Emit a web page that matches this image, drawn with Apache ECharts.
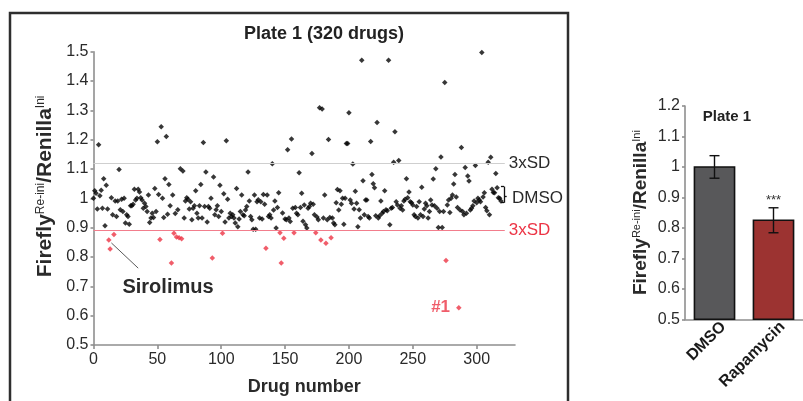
<!DOCTYPE html>
<html><head><meta charset="utf-8">
<script src="https://cdn.jsdelivr.net/npm/echarts@6/dist/echarts.min.js"></script>
<style>html,body{margin:0;padding:0;background:#fff}#c{width:803px;height:401px}</style>
</head><body><div id="c"></div>
<script>
// ---- data ----
const drugValues = [
  1.000,1.026,1.017,0.964,1.183,1.009,1.028,0.966,1.067,0.907,
  1.045,0.964,0.858,0.827,1.002,0.944,0.877,0.991,0.938,0.991,
  1.098,0.961,0.997,0.955,1.000,0.916,0.944,0.938,0.912,0.975,
  0.975,0.980,1.031,0.994,1.000,1.031,1.022,1.002,0.994,0.966,
  0.983,0.972,0.955,1.011,0.918,0.933,0.949,0.935,1.034,0.955,
  1.193,1.013,0.860,1.244,1.000,0.935,1.067,1.211,0.946,1.047,
  0.975,0.780,1.011,0.881,0.948,0.868,0.961,0.866,1.101,0.862,
  1.093,0.933,0.991,1.002,0.997,0.964,0.988,0.927,0.966,0.975,
  1.026,0.949,0.933,0.975,1.047,0.933,1.190,0.972,1.090,0.919,
  0.972,0.966,1.000,0.797,1.073,0.944,0.961,0.975,0.938,1.045,
  0.955,0.881,1.016,0.919,1.196,0.997,0.933,0.949,0.938,0.944,
  0.933,0.916,1.034,0.903,0.930,0.955,1.011,0.944,0.941,0.960,
  0.972,1.090,0.991,0.938,0.927,0.895,1.011,0.895,0.988,0.995,
  0.933,0.988,0.930,1.013,0.980,0.830,1.011,0.938,0.944,0.933,
  1.118,0.960,0.991,0.899,0.969,1.019,0.883,0.780,0.950,0.864,
  0.930,0.927,1.166,0.933,0.921,1.202,0.966,0.883,0.969,0.949,
  0.944,1.087,0.969,1.017,0.922,0.977,0.910,0.899,0.966,0.972,
  0.983,1.153,0.980,0.944,0.883,0.936,0.927,1.309,0.858,1.305,
  0.933,1.011,0.847,0.927,1.201,0.935,0.866,0.933,0.916,0.910,
  0.985,1.030,0.960,1.026,0.980,1.000,0.912,1.000,1.187,1.187,
  1.292,0.994,0.983,1.117,0.964,1.024,0.983,0.903,0.961,0.933,
  1.471,1.060,0.944,0.994,0.994,0.938,0.933,1.194,1.081,1.050,
  1.036,0.941,1.259,0.933,0.941,0.991,0.949,0.955,1.026,0.961,
  0.958,1.471,0.910,0.966,0.969,1.123,1.227,0.988,0.977,1.129,
  0.966,0.975,0.960,0.991,0.997,1.067,1.002,1.022,0.988,0.985,
  0.977,0.944,0.938,0.972,0.933,0.988,0.944,1.038,0.938,0.964,
  0.983,0.975,0.933,0.955,0.994,0.977,1.066,0.975,1.101,0.966,
  0.901,0.955,1.141,0.901,0.955,1.395,0.788,0.977,0.994,0.952,
  1.000,1.011,1.049,1.081,1.005,0.969,0.627,0.960,1.173,0.955,
  0.944,1.105,0.949,1.076,1.059,0.960,0.966,0.975,0.991,1.112,
  0.985,1.000,0.994,0.988,1.497,1.005,1.019,0.969,0.958,1.123,
  0.944,1.140,1.031,1.020,1.019,1.085,1.036,1.002,1.000,0.991
];
const upperSD = 1.121;
const lowerSD = 0.890;
const pointLabels = {286: '#1'};
const xTickValues = [0, 50, 100, 150, 200, 250, 300];
const barCategories = ['DMSO', 'Rapamycin'];
const barValues = [1.0, 0.825];
const barErrors = [0.037, 0.041];
const barSig = ['', '***'];

// ---- chart ----
const FONT = "'Liberation Sans', Arial, Helvetica, sans-serif";
const TXT = '#2a2a2a';
const RED = '#ec3445';
const blackPts = [], redPts = [];
drugValues.forEach((v, i) => {
  if (v >= lowerSD) blackPts.push([i, v]);
  else {
    const item = {value: [i, v]};
    if (pointLabels[i]) item.label = {show: true, formatter: pointLabels[i], position: 'left', distance: 6,
      color: RED, fontSize: 17, fontWeight: 'bold', fontFamily: FONT};
    redPts.push(item);
  }
});

const chart = echarts.init(document.getElementById('c'), null, {renderer: 'canvas'});
const axisLineStyle = {color: '#8f8f8f', width: 1.6};
const blackLine = {color: '#111', width: 1.3, type: 'solid'};
const yName = (m, s) => ({
  rich: {
    m: {fontSize: m, fontWeight: 'bold', color: TXT, fontFamily: FONT},
    s: {fontSize: s, fontWeight: 'normal', color: TXT, fontFamily: FONT, verticalAlign: 'top'}
  }
});

chart.setOption({
  animation: false,
  textStyle: {fontFamily: FONT},
  grid: [
    {left: 93.5, top: 51.7, width: 421.5, height: 296.6},
    {left: 685, top: 106, width: 123, height: 213.3}
  ],
  xAxis: [
    {gridIndex: 0, type: 'value', min: 0, max: 330, interval: 50,
     axisLine: {lineStyle: axisLineStyle}, splitLine: {show: false},
     axisTick: {length: 4, lineStyle: axisLineStyle, customValues: xTickValues},
     axisLabel: {customValues: xTickValues, fontSize: 16, color: TXT, margin: 7},
     name: 'Drug number', nameLocation: 'middle', nameGap: 33,
     nameTextStyle: {fontSize: 18, fontWeight: 'bold', color: TXT}},
    {gridIndex: 1, type: 'category', data: barCategories,
     axisLine: {lineStyle: axisLineStyle}, axisTick: {length: 4, lineStyle: axisLineStyle},
     axisLabel: {show: false}}
  ],
  yAxis: [
    {gridIndex: 0, type: 'value', min: 0.5, max: 1.5, interval: 0.1,
     axisLine: {show: true, lineStyle: axisLineStyle}, splitLine: {show: false},
     axisTick: {show: true, length: 3, lineStyle: axisLineStyle},
     axisLabel: {fontSize: 16, color: TXT, margin: 5, padding: [0, 0, 8, 0]},
     name: '{m|Firefly}{s|Re-ini}{m|/Renilla}{s|Ini}', nameLocation: 'middle', nameRotate: 90, nameGap: 37,
     nameTextStyle: Object.assign(yName(21, 12), {padding: [0, 0, 0, 24]})},
    {gridIndex: 1, type: 'value', min: 0.5, max: 1.2, interval: 0.1,
     axisLine: {show: true, lineStyle: axisLineStyle}, splitLine: {show: false},
     axisTick: {show: true, length: 3, lineStyle: axisLineStyle},
     axisLabel: {fontSize: 16, color: TXT, margin: 5},
     name: '{m|Firefly}{s|Re-ini}{m|/Renilla}{s|Ini}', nameLocation: 'middle', nameRotate: 90, nameGap: 35,
     nameTextStyle: yName(19, 11)}
  ],
  series: [
    {type: 'scatter', xAxisIndex: 0, yAxisIndex: 0, data: blackPts, symbol: 'diamond', symbolSize: 5.5,
     itemStyle: {color: '#050505'}, silent: true,
     markLine: {silent: true, symbol: ['none', 'none'],
       data: [
         [{coord: [0, upperSD], lineStyle: {color: '#cfcfcf', width: 1, type: 'solid'},
           label: {show: true, position: 'end', formatter: '3xSD', fontSize: 17, color: TXT, distance: 4}},
          {coord: [322, upperSD]}],
         [{coord: [0, lowerSD], lineStyle: {color: '#f27d8c', width: 1, type: 'solid'},
           label: {show: true, position: 'end', formatter: '3xSD', fontSize: 17, color: RED, distance: 4}},
          {coord: [322, lowerSD]}],
         [{coord: [321.5, 0.985], lineStyle: blackLine, label: {show: false}}, {coord: [321.5, 1.040]}],
         [{coord: [319, 1.040], lineStyle: blackLine, label: {show: false}}, {coord: [321.5, 1.040]}],
         [{coord: [319, 0.985], lineStyle: blackLine, label: {show: false}}, {coord: [321.5, 0.985]}],
         [{coord: [321.5, 1.008], lineStyle: blackLine, label: {show: false}}, {coord: [323.5, 1.008]}]
       ]}},
    {type: 'scatter', xAxisIndex: 0, yAxisIndex: 0, data: redPts, symbol: 'diamond', symbolSize: 5.5,
     itemStyle: {color: RED}, silent: true,
     markLine: {silent: true, symbol: ['none', 'none'],
       data: [[{coord: [14, 0.848], lineStyle: {color: '#5a5a5a', width: 1, type: 'solid'}, label: {show: false}}, {coord: [35, 0.762]}]]}},
    {type: 'custom', xAxisIndex: 1, yAxisIndex: 1,
     data: barValues.map((v, i) => [i, v, v - barErrors[i], v + barErrors[i]]),
     renderItem: (params, api) => {
       const i = api.value(0), v = api.value(1), lo = api.value(2), hi = api.value(3);
       const base = api.coord([i, 0.5]);
       const top = api.coord([i, v]);
       const pLo = api.coord([i, lo]);
       const pHi = api.coord([i, hi]);
       const bw = api.size([1, 0])[0] * 0.68;
       const fill = i === 0 ? '#58585a' : '#9c3331';
       const children = [
         {type: 'rect', shape: {x: top[0] - bw / 2, y: top[1], width: bw, height: base[1] - top[1]},
          style: {fill: fill, stroke: '#111', lineWidth: 1.6}},
         {type: 'line', shape: {x1: pLo[0], y1: pLo[1], x2: pHi[0], y2: pHi[1]}, style: {stroke: '#111', lineWidth: 1.4}},
         {type: 'line', shape: {x1: pLo[0] - 5, y1: pLo[1], x2: pLo[0] + 5, y2: pLo[1]}, style: {stroke: '#111', lineWidth: 1.4}},
         {type: 'line', shape: {x1: pHi[0] - 5, y1: pHi[1], x2: pHi[0] + 5, y2: pHi[1]}, style: {stroke: '#111', lineWidth: 1.4}},
         {type: 'text', x: base[0] + 9, y: base[1] + 5, rotation: Math.PI / 4,
          style: {text: barCategories[params.dataIndex], align: 'right', verticalAlign: 'middle',
            fontSize: 16, fontWeight: 'bold', fontFamily: FONT, fill: '#1a1a1a'}}
       ];
       const sig = barSig[params.dataIndex];
       if (sig) children.push({type: 'text', style: {text: sig, x: pHi[0], y: pHi[1] - 1, align: 'center',
         verticalAlign: 'bottom', fontSize: 13, fontFamily: FONT, fill: '#333'}});
       return {type: 'group', children: children};
     }}
  ],
  graphic: [
    {type: 'rect', shape: {x: 10, y: 13, width: 558, height: 420}, style: {fill: 'none', stroke: '#2e2e2e', lineWidth: 2.5}, silent: true},
    {type: 'text', x: 324, y: 34, style: {text: 'Plate 1 (320 drugs)', textAlign: 'center', textVerticalAlign: 'middle',
      fontSize: 18, fontWeight: 'bold', fontFamily: FONT, fill: '#222'}},
    {type: 'text', x: 168, y: 287, style: {text: 'Sirolimus', textAlign: 'center', textVerticalAlign: 'middle',
      fontSize: 20, fontWeight: 'bold', fontFamily: FONT, fill: '#2a2a2a'}},
    {type: 'text', x: 512, y: 198, style: {text: 'DMSO', textAlign: 'left', textVerticalAlign: 'middle',
      fontSize: 17, fontFamily: FONT, fill: TXT}},
    {type: 'text', x: 727, y: 117, style: {text: 'Plate 1', textAlign: 'center', textVerticalAlign: 'middle',
      fontSize: 15, fontWeight: 'bold', fontFamily: FONT, fill: '#222'}}
  ]
});
</script></body></html>
